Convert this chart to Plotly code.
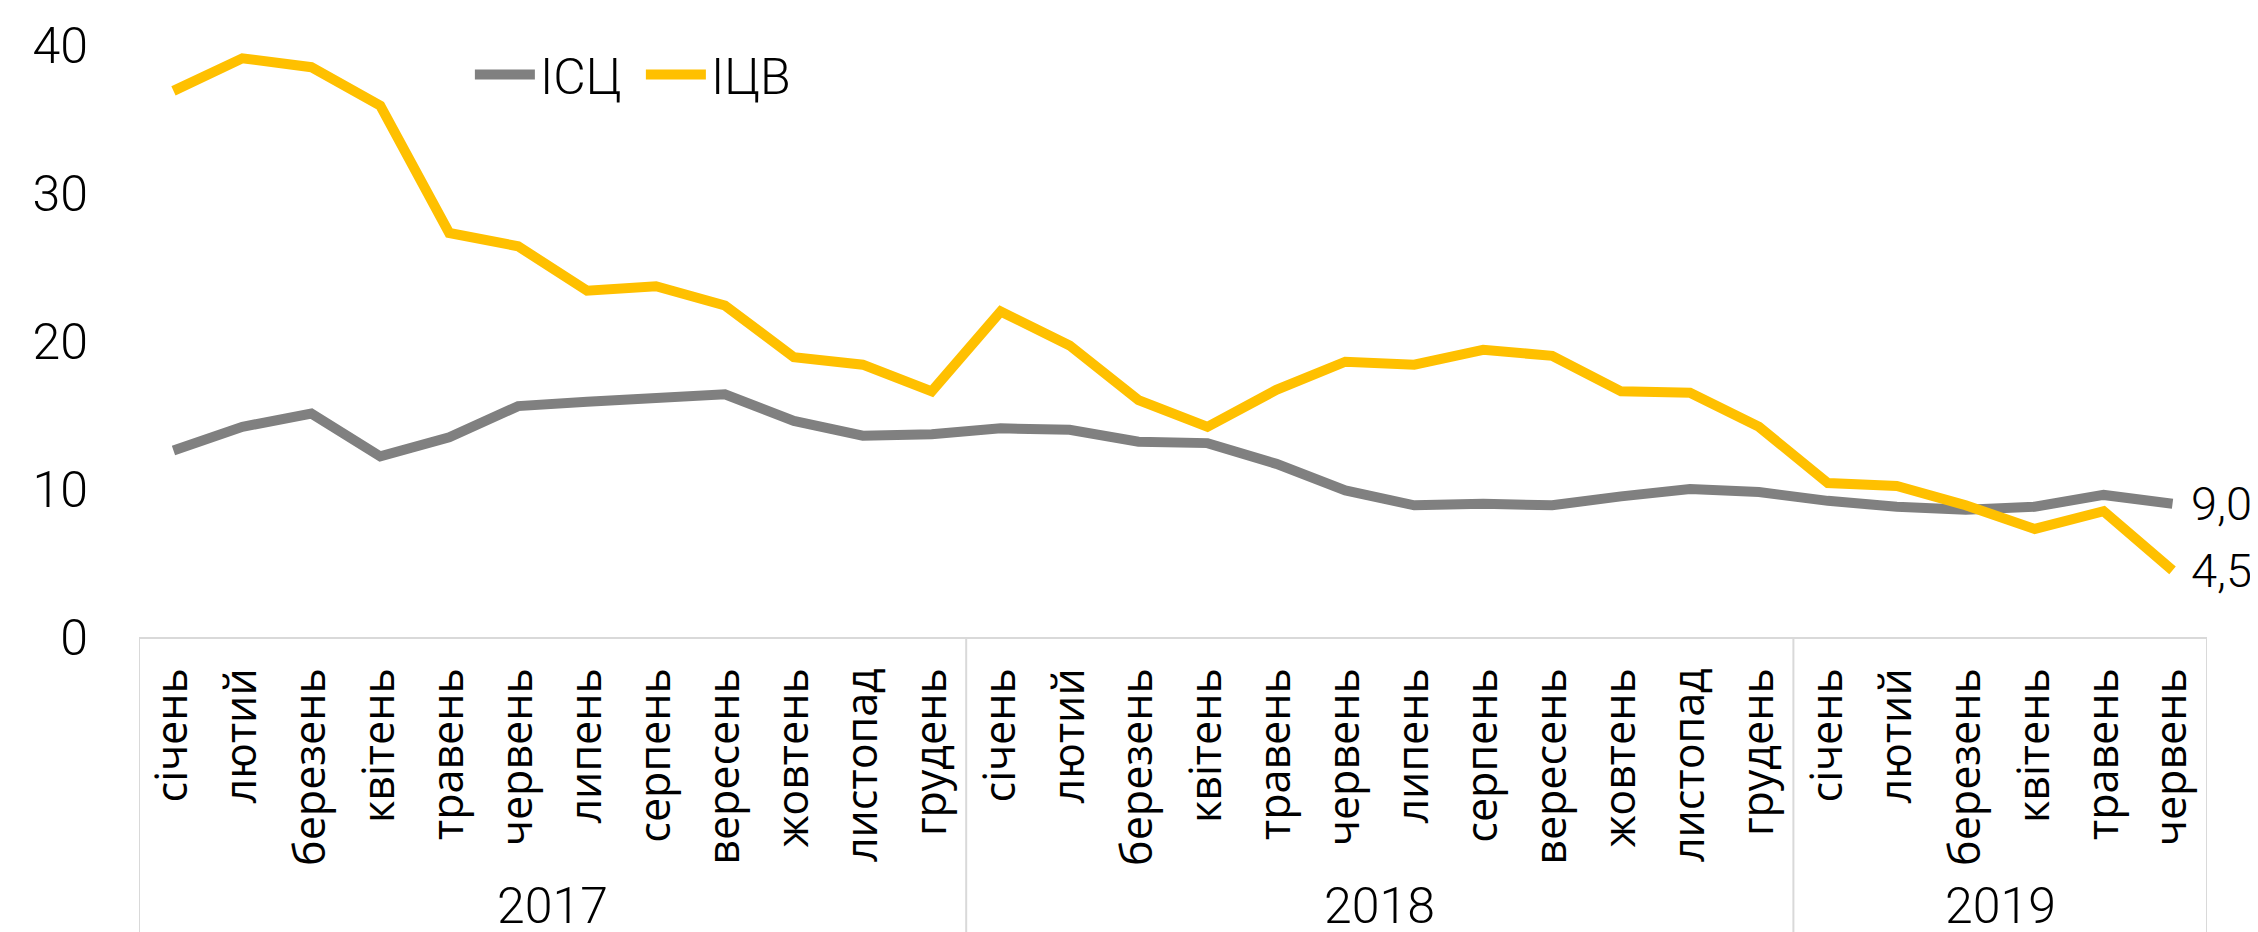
import plotly.graph_objects as go

months = ["січень", "лютий", "березень", "квітень", "травень", "червень",
          "липень", "серпень", "вересень", "жовтень", "листопад", "грудень"]
years = ["2017", "2018", "2019"]
months_per_year = [12, 12, 6]

month_labels = months * 2 + months[:6]

cpi = [12.6, 14.2, 15.1, 12.2, 13.5, 15.6, 15.9, 16.2, 16.4, 14.6, 13.6, 13.7,
       14.1, 14.0, 13.2, 13.1, 11.7, 9.9, 8.9, 9.0, 8.9, 9.5, 10.0, 9.8,
       9.2, 8.8, 8.6, 8.8, 9.6, 9.0]
ppi = [36.9, 39.1, 38.5, 35.9, 27.3, 26.4, 23.4, 23.7, 22.4, 18.9, 18.4, 16.6,
       22.0, 19.7, 16.0, 14.2, 16.7, 18.6, 18.4, 19.4, 19.0, 16.6, 16.5, 14.2,
       10.4, 10.2, 8.9, 7.3, 8.5, 4.5]

series_names = ["ІСЦ", "ІЦВ"]
colors = ["#808080", "#FFC000"]

xs = list(range(len(month_labels)))

NARROW = "Roboto"
WIDE = "Open Sans"
hfont = dict(family=NARROW, size=50, color="black", weight=300)

fig = go.Figure()
for name, vals, col in zip(series_names, [cpi, ppi], colors):
    fig.add_trace(go.Scatter(x=xs, y=vals, mode="lines", name=name,
                             line=dict(color=col, width=10)))

# year group dividers and labels
shapes = []
annotations = []
start = -0.5
shapes.append(dict(type="line", xref="x", yref="paper", x0=start, x1=start,
                   y0=0, y1=-0.53, line=dict(color="#d9d9d9", width=2)))
for yr, n in zip(years, months_per_year):
    end = start + n
    shapes.append(dict(type="line", xref="x", yref="paper", x0=end, x1=end,
                       y0=0, y1=-0.53, line=dict(color="#d9d9d9", width=2)))
    annotations.append(dict(x=(start + end) / 2, y=-0.455, xref="x", yref="paper",
                            text=yr, showarrow=False, yanchor="middle",
                            font=hfont))
    start = end

# end labels
for vals in [cpi, ppi]:
    annotations.append(dict(x=xs[-1], y=vals[-1], xref="x", yref="y",
                            text=f"{vals[-1]:.1f}".replace(".", ","),
                            showarrow=False, xanchor="left", yanchor="middle",
                            xshift=16,
                            font=dict(family=NARROW, size=47, color="black", weight=300)))

fig.update_layout(
    width=2258, height=932,
    margin=dict(l=131, r=59, t=37, b=303),
    plot_bgcolor="white", paper_bgcolor="white",
    showlegend=True,
    legend=dict(orientation="h", x=0.16, y=0.95, xanchor="left", yanchor="middle",
                font=hfont, bgcolor="rgba(0,0,0,0)", itemwidth=60, tracegroupgap=0,
                entrywidth=96, entrywidthmode="pixels"),
    shapes=shapes,
    annotations=annotations,
)
fig.update_xaxes(range=[-0.5, len(xs) - 0.5], tickmode="array", tickvals=xs,
                 ticktext=month_labels, tickangle=-90, showgrid=False,
                 zeroline=False, showline=True, linecolor="#d9d9d9", linewidth=2,
                 ticks="", ticklabelstandoff=12, automargin=False,
                 tickfont=dict(family=WIDE, size=43, color="black"))
fig.update_yaxes(range=[0, 40], tickvals=[0, 10, 20, 30, 40], showgrid=False,
                 zeroline=False, showline=False, ticks="", ticklabelstandoff=50,
                 automargin=False, tickfont=hfont)

fig.write_html("out.html")
